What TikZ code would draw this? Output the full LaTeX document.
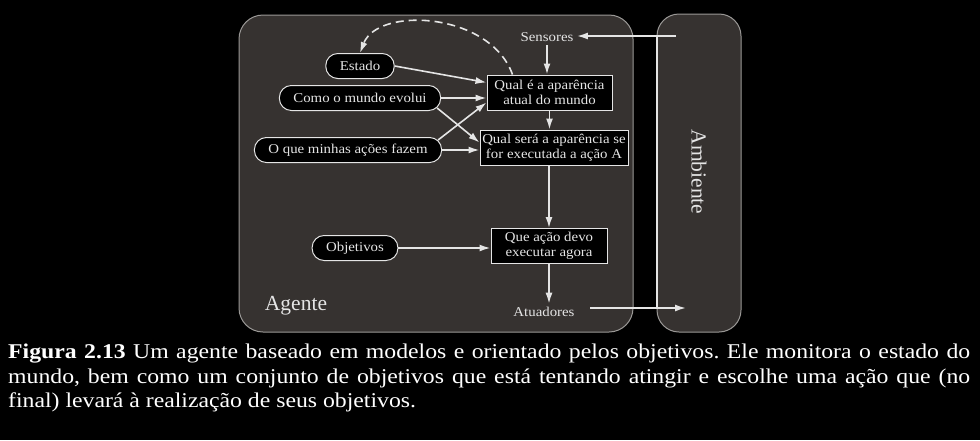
\documentclass[tikz,border=0pt]{standalone}
\usepackage{fontspec}
\setmainfont{Liberation Serif}
\newfontfamily\largo[FakeStretch=1.1]{Liberation Serif}
\newfontfamily\legfont[FakeStretch=1.13]{Liberation Serif}
\usetikzlibrary{arrows.meta,calc}
\tikzset{>={Latex[length=11pt,width=7pt]}}
\definecolor{fundo}{HTML}{363230}
\definecolor{borda}{HTML}{9A9896}
\colorlet{traco}{white!90!black}
\newcommand{\corpo}{\largo\fontsize{13.5}{14.5}\selectfont}
\tikzset{
  painel/.style={draw=borda,line width=1pt,fill=fundo},
  pilula/.style={draw=traco,line width=1pt,fill=black,text=traco,rounded corners=12pt,minimum height=25pt,inner xsep=14pt,font=\corpo},
  caixa/.style={draw=traco,line width=1pt,fill=black,text=traco,minimum height=35pt,align=center,inner sep=2pt,font=\corpo},
  rotulo/.style={text=traco,font=\corpo},
  seta/.style={->,draw=traco,line width=1.6pt},
}

\begin{document}
\begin{tikzpicture}[x=1pt,y=-1pt]
  \fill[black] (0,0) rectangle (980,440);
  \draw[painel,rounded corners=24pt] (239,15) rectangle (633,332);
  \draw[painel,rounded corners=22pt] (657,14) rectangle (741,332);
  \node[text=traco,font=\fontsize{21.5}{24}\selectfont,rotate=-90] (amb) at (699,172) {Ambiente};
  \node[text=traco,font=\fontsize{21.5}{24}\selectfont] (agente) at (296,306) {Agente};
  \node[rotulo] (sens) at (547,37) {Sensores};
  \node[rotulo] (atu) at (544,312) {Atuadores};
  \node[pilula] (estado) at (360,66) {Estado};
  \node[pilula] (como) at (360,98) {Como o mundo evolui};
  \node[pilula] (oque) at (348,150) {O que minhas ações fazem};
  \node[pilula] (obj) at (355,248) {Objetivos};
  \node[caixa,minimum width=125pt] (q1) at (549.5,92.5) {Qual é a aparência\\atual do mundo};
  \node[caixa,minimum width=148pt] (q2) at (554,147.5) {Qual será a aparência se\\for executada a ação A};
  \node[caixa,minimum width=116pt] (q3) at (549,246) {Que ação devo\\executar agora};
  \coordinate (ambS) at (676,36);
  \coordinate (ambA) at (686,308);
  \coordinate (bordaS) at (657,36);
  \coordinate (bordaA) at (657,308);
  \draw[traco,line width=1.6pt] (bordaS) -- (bordaA);
  \draw[seta] (ambS) -- (sens.east |- ambS);
  \draw[seta] (sens.south) -- (sens.south |- q1.north);
  \draw[seta] (q1.south) -- (q1.south |- q2.north);
  \draw[seta] (q3.north |- q2.south) -- (q3.north);
  \draw[seta] (q3.south) -- (q3.south |- atu.north);
  \draw[seta] ($(atu.east |- ambA)+(12,0)$) -- (ambA);
  \draw[seta] (estado.east) -- ([yshift=10pt]q1.west);
  \draw[seta] (como.east) -- (como.east -| q1.west);
  \draw[seta] ([xshift=-4pt,yshift=-10pt]como.east) -- ([yshift=5pt]q2.west);
  \draw[seta] ([xshift=-4pt,yshift=10pt]oque.east) -- ([yshift=-10pt]q1.west);
  \draw[seta] (oque.east) -- (oque.east -| q2.west);
  \draw[seta] (obj.east) -- (obj.east -| q3.west);
  \draw[seta,dash pattern=on 8pt off 5pt] ([xshift=26pt]q1.north west) .. controls (490,12) and (378,6) .. (estado.north);
  \node[anchor=north west,text width=962pt,align=justify,inner sep=0pt,text=white,font=\legfont\fontsize{21}{24.5}\selectfont] (legenda) at (8,344)
    {\frenchspacing\hyphenpenalty=10000 \textbf{Figura 2.13} Um agente baseado em modelos e orientado pelos objetivos. Ele monitora o estado do\linebreak mundo, bem como um conjunto de objetivos que está tentando atingir e escolhe uma ação que (no\linebreak final) levará à realização de seus objetivos.};
\end{tikzpicture}
\end{document}
